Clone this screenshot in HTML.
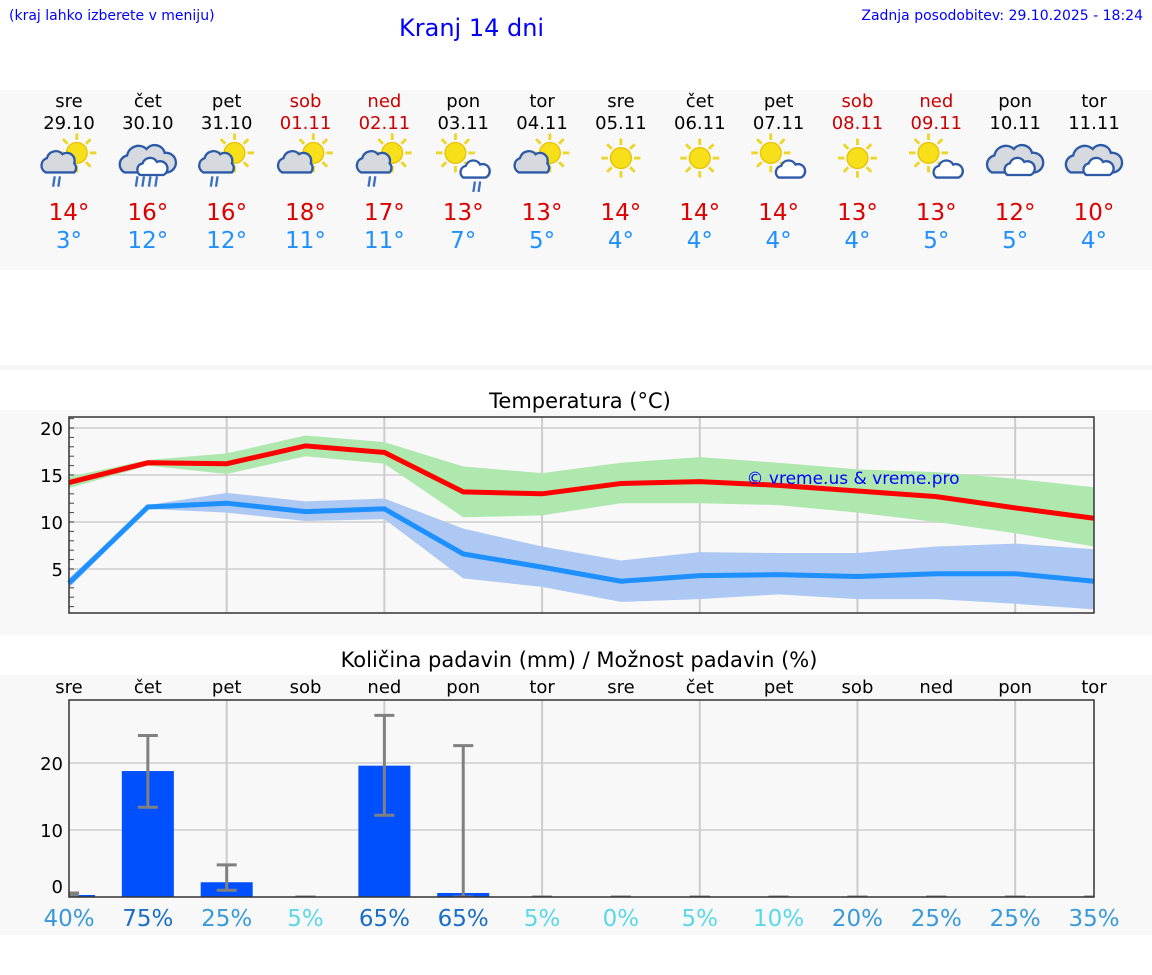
<!DOCTYPE html>
<html><head><meta charset="utf-8"><style>
body{margin:0;width:1152px;height:975px;background:#fff;font-family:"DejaVu Sans","Liberation Sans",sans-serif;position:relative;overflow:hidden}
.abs{position:absolute}
</style></head><body>
<div class="abs" style="left:9px;top:8px;font-size:14px;color:#00f">(kraj lahko izberete v meniju)</div>
<div class="abs" style="left:399px;top:14px;font-size:24px;color:#00f">Kranj 14 dni</div>
<div class="abs" style="right:9px;top:8px;font-size:14px;color:#00f">Zadnja posodobitev: 29.10.2025 - 18:24</div>
<div class="abs" style="left:0;top:90px;width:1152px;height:180px;background:#f8f8f8"></div>
<div class="abs" style="left:0;top:365px;width:1152px;height:5px;background:#f6f6f6"></div>
<div class="abs" style="left:0;top:410px;width:1152px;height:225px;background:#f8f8f8"></div>
<div class="abs" style="left:0;top:675px;width:1152px;height:260px;background:#f8f8f8"></div>
<svg class="abs" style="left:0;top:0" width="1152" height="975" id="svg"></svg>
<script>
const days=["sre","čet","pet","sob","ned","pon","tor","sre","čet","pet","sob","ned","pon","tor"];
const dates=["29.10","30.10","31.10","01.11","02.11","03.11","04.11","05.11","06.11","07.11","08.11","09.11","10.11","11.11"];
const weekend=[0,0,0,1,1,0,0,0,0,0,1,1,0,0];
const icons=["pcr","cr","pcr","pc","pcr","sr","pc","s","s","sc","s","sc","c","c"];
const tmax=[14,16,16,18,17,13,13,14,14,14,13,13,12,10];
const tmin=[3,12,12,11,11,7,5,4,4,4,4,5,5,4];
const maxLine=[14.2,16.3,16.2,18.1,17.4,13.2,13.0,14.1,14.3,13.9,13.3,12.7,11.5,10.4];
const maxLo=[13.6,16.0,15.1,17.0,16.2,10.5,10.7,12.0,12.0,11.8,11.0,10.0,8.8,7.4];
const maxHi=[14.8,16.6,17.3,19.2,18.5,15.9,15.2,16.3,16.9,16.3,15.6,15.3,14.6,13.7];
const minLine=[3.5,11.6,12.0,11.1,11.4,6.6,5.2,3.7,4.3,4.4,4.2,4.5,4.5,3.7];
const minLo=[3.0,11.4,11.0,10.1,10.3,4.0,3.1,1.5,1.8,2.3,1.8,1.8,1.3,0.7];
const minHi=[4.0,11.8,13.1,12.2,12.5,9.3,7.4,5.9,6.8,6.7,6.7,7.4,7.7,7.1];
const tempTicks=[5,10,15,20];
const rain=[0.3,18.8,2.2,0,19.6,0.6,0,0,0,0,0,0,0,0];
const rainLo=[0.3,13.4,1.0,0,12.2,0,0,0,0,0,0,0,0,0];
const rainHi=[0.6,24.1,4.8,0,27.1,22.6,0,0,0,0,0,0,0,0];
const prob=[40,75,25,5,65,65,5,0,5,10,20,25,25,35];
const rainTicks=[0,10,20];

const S=document.getElementById('svg');
const NS="http://www.w3.org/2000/svg";
function el(t,a,p){const e=document.createElementNS(NS,t);for(const k in a)e.setAttribute(k,a[k]);(p||S).appendChild(e);return e;}
function txt(x,y,s,a){const e=el('text',Object.assign({x:x,y:y,'text-anchor':'middle','font-family':'DejaVu Sans, Liberation Sans, sans-serif'},a));e.textContent=s;return e;}
const X=i=>69+i*(1025/13);
for(let i=0;i<14;i++){
 const c=weekend[i]?'#c00':'#000';
 let t=txt(X(i),107,days[i],{'font-size':18,fill:c});
 
 t=txt(X(i),129,dates[i],{'font-size':18,fill:c});
 
 const g=el('g',{transform:`translate(${X(i)},162) scale(1.3)`});
 
 const k=icons[i];
 if(k!='c'&&k!='cr'){
  const sx=(k=='s')?0:(k=='sr'||k=='sc')?-6:6, sy=(k=='s')?-3:-7;
  for(let a=0;a<8;a++){const r=a*Math.PI/4;el('line',{x1:sx+Math.cos(r)*10,y1:sy+Math.sin(r)*10,x2:sx+Math.cos(r)*15,y2:sy+Math.sin(r)*15,stroke:'#ecd62a','stroke-width':2.2},g);}
  el('circle',{cx:sx,cy:sy,r:8,fill:'#f7df1a',stroke:'#e8c100','stroke-width':1},g);
 }
 if(k=='pcr'||k=='pc'){el('path',{d:'M-18,8 a6 6 0 0 1 1 -11 a7 7 0 0 1 12 -3 a6 6 0 0 1 9 7 a5 5 0 0 1 0 7 z',fill:'#d6d9de',stroke:'#2d5aa8','stroke-width':1.8},g);}
 if(k=='cr'||k=='c'){el('path',{d:'M-18,8 a7 7 0 0 1 2 -13 a9 9 0 0 1 15 -5 a8 8 0 0 1 14 3 a7 7 0 0 1 2 15 z',fill:'#d6d9de',stroke:'#2d5aa8','stroke-width':1.8},g);el('path',{d:'M-6,10 a5 5 0 0 1 2 -9 a6 6 0 0 1 11 -1 a5 5 0 0 1 5 10 z',fill:'#fff',stroke:'#2d5aa8','stroke-width':1.8},g);}
 if(k=='sr'||k=='sc'){el('path',{d:'M0,12 a5 5 0 0 1 2 -9 a6 6 0 0 1 11 -1 a5 5 0 0 1 4 10 z',fill:'#fff',stroke:'#2d5aa8','stroke-width':1.8},g);}
 if(k=='pcr'||k=='cr'||k=='sr'){const xs=k=='cr'?[-8,-3,2,7]:k=='sr'?[9,13]:[-11,-7];for(const x of xs)el('line',{x1:x,y1:(k=='sr'?15:11),x2:x-1.2,y2:(k=='sr'?23:19),stroke:'#3d6fc0','stroke-width':1.8},g);}
 t=txt(X(i),220,tmax[i]+'°',{'font-size':23,fill:'#d00'});
 
 t=txt(X(i),248,tmin[i]+'°',{'font-size':23,fill:'#1e90ff'});
 
}
let t=txt(580,408,'Temperatura (°C)',{'font-size':21,fill:'#000'});

const TY=v=>616-v*9.4, L=69,R=1094,TT=417,TB=613;
for(const v of tempTicks){el('line',{x1:L,x2:R,y1:TY(v),y2:TY(v),stroke:'#d8d8d8','stroke-width':2});t=txt(63,TY(v)+7,v,{'font-size':18,'text-anchor':'end'});}
for(let v=1;v<=21;v++)el('line',{x1:L,x2:L+5,y1:TY(v),y2:TY(v),stroke:'#444','stroke-width':1});
for(let i=2;i<14;i+=2)el('line',{x1:X(i),x2:X(i),y1:TT,y2:TB,stroke:'#ccc','stroke-width':2});
function band(lo,hi,fill,name){let d='M'+lo.map((v,i)=>X(i)+','+TY(v)).join('L');d+='L'+hi.map((v,i)=>X(i)+','+TY(v)).reverse().join('L')+'Z';const p=el('path',{d:d,fill:fill});}
band(maxLo,maxHi,'#aee8ae','max-temp-range');band(minLo,minHi,'#adc8f2','min-temp-range');
function line(a,c,name){const p=el('polyline',{points:a.map((v,i)=>X(i)+','+TY(v)).join(' '),fill:'none',stroke:c,'stroke-width':5});}
line(maxLine,'#f00','max-temp-line');line(minLine,'#1e90ff','min-temp-line');
t=txt(853,484,'© vreme.us & vreme.pro',{'font-size':17,fill:'#00f'});
el('rect',{x:L,y:TT,width:R-L,height:TB-TT,fill:'none',stroke:'#333','stroke-width':1.5});
t=txt(579,667,'Količina padavin (mm) / Možnost padavin (%)',{'font-size':21,fill:'#000'});

const PY=v=>897-v*6.7, PT=700,PB=897;
for(let i=0;i<14;i++){t=txt(X(i),693,days[i],{'font-size':18});}
for(const v of rainTicks){if(v>0)el('line',{x1:L,x2:R,y1:PY(v),y2:PY(v),stroke:'#d8d8d8','stroke-width':2});t=txt(63,PY(v)+(v==0?-4:7),v,{'font-size':18,'text-anchor':'end'});}
for(let i=2;i<14;i+=2)el('line',{x1:X(i),x2:X(i),y1:PT,y2:PB,stroke:'#ccc','stroke-width':2});
const cg=el('g',{});el('clipPath',{id:'pc'},cg);el('rect',{x:L,y:PT,width:R-L,height:PB-PT},document.getElementById('pc'));
const pg=el('g',{'clip-path':'url(#pc)'});
for(let i=0;i<14;i++){
 const b=el('rect',{x:X(i)-26,y:PY(rain[i]),width:52,height:rain[i]*6.7,fill:'#0050ff'},pg);
 
 const e=el('g',{stroke:'#808080','stroke-width':3},pg);
 
 el('line',{x1:X(i),x2:X(i),y1:PY(rainLo[i]),y2:PY(rainHi[i])},e);
 el('line',{x1:X(i)-10,x2:X(i)+10,y1:PY(rainLo[i]),y2:PY(rainLo[i])},e);
 el('line',{x1:X(i)-10,x2:X(i)+10,y1:PY(rainHi[i]),y2:PY(rainHi[i])},e);
 const c=prob[i]>=50?'#1a6fc4':prob[i]>=20?'#3a9ad9':'#5ad8e8';
 t=txt(X(i),926,prob[i]+'%',{'font-size':23,fill:c});
}
el('rect',{x:L,y:PT,width:R-L,height:PB-PT,fill:'none',stroke:'#333','stroke-width':1.5});
</script>
</body></html>
